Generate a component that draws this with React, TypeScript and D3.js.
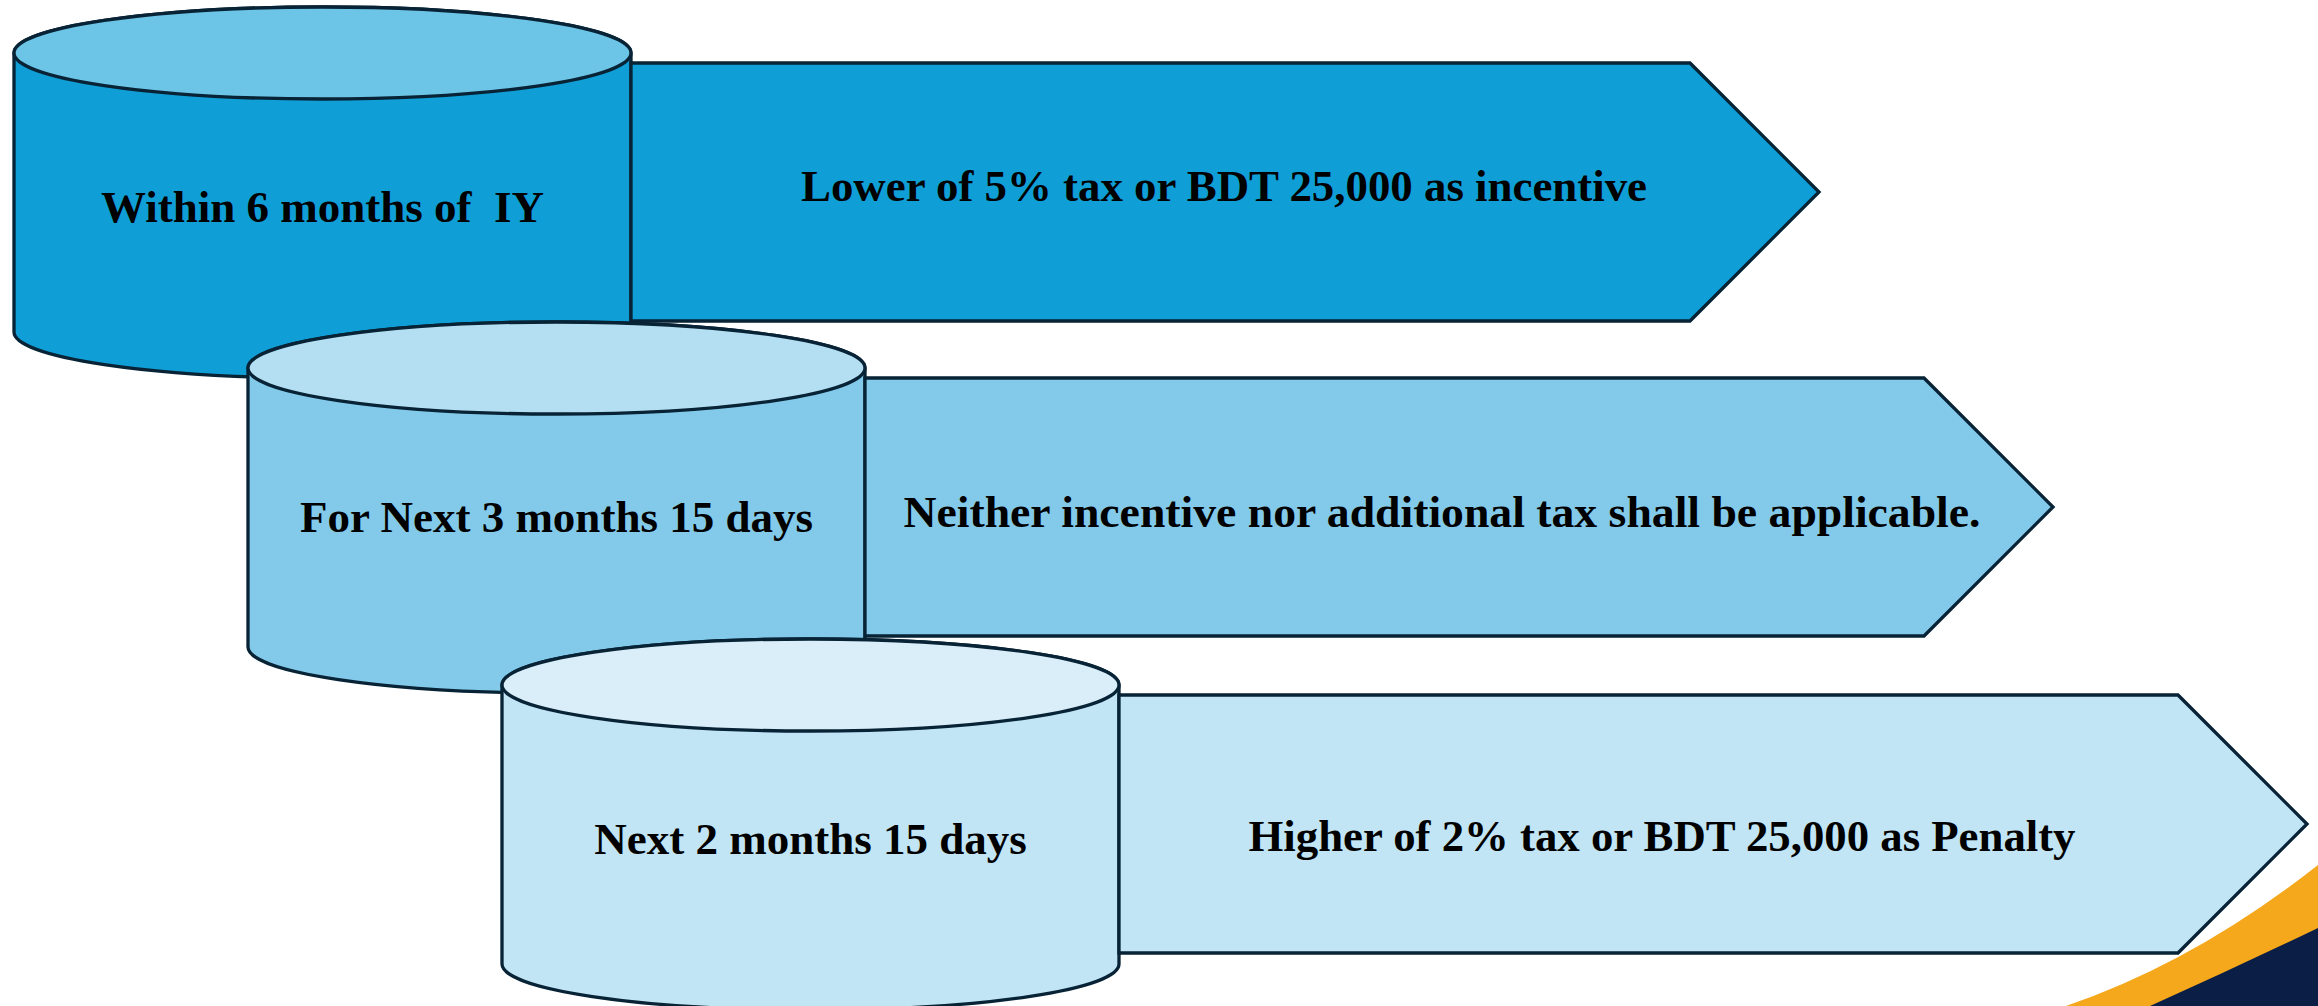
import * as d3 from 'd3';
import { useEffect, useRef } from 'react';

// Filing window stages and their consequence
const stages = ['Within 6 months of  IY', 'For Next 3 months 15 days', 'Next 2 months 15 days'];
const outcomes = [
  'Lower of 5% tax or BDT 25,000 as incentive',
  'Neither incentive nor additional tax shall be applicable.',
  'Higher of 2% tax or BDT 25,000 as Penalty',
];
const stageIndex = [0, 1, 2];

const bodyFills = ['#109ed6', '#83caea', '#c1e5f5'];
const topFills = ['#6cc4e6', '#b4dff2', '#daeef9'];
const STROKE = '#072335';

const W = 2318;
const H = 1006;

export default function App() {
  const svgRef = useRef<SVGSVGElement>(null);

  useEffect(() => {
    if (!svgRef.current) return;
    const svg = d3.select(svgRef.current);
    svg.selectAll('*').remove();

    // staircase layout: each stage steps right and down
    const cylLeft = d3.scaleLinear().domain([0, 1, 2]).range([14, 248, 502]);
    const rowY = d3.scaleLinear().domain([0, 1, 2]).range([53, 368, 685]);
    const arrowTextX = d3.scaleLinear().domain([0, 1, 2]).range([1224, 1442, 1662]);
    const cylTextDy = [169, 164, 169];
    const arrowTextDy = [148, 159, 166];
    const arrowTextW = [846, 1077, 827]; // measured from the slide (Cambria is a bit wider than Times)

    const rx = 308.5;
    const ry = 46;
    const bodyH = 279;
    const arrowTop = 10;
    const arrowH = 258;
    const arrowLen = 1059;
    const tip = 129;
    const sw = 3.3;

    // corner swoosh (bottom right)
    svg.append('path')
      .attr('d', `M2066,${H} Q2195,962 ${W},865 L${W},${H} Z`)
      .attr('fill', '#f5a81c');
    svg.append('path')
      .attr('d', `M2150,${H} Q2235,968 ${W},928 L${W},${H} Z`)
      .attr('fill', '#0b1e45');

    const rows = svg.selectAll('g.row')
      .data(stageIndex)
      .join('g')
      .attr('class', 'row');

    rows.each(function (i) {
      const g = d3.select(this);
      const left = cylLeft(i);
      const right = left + 2 * rx;
      const cx = left + rx;
      const cy = rowY(i);

      // cylinder body
      g.append('path')
        .attr('d', `M${left},${cy} L${left},${cy + bodyH} A${rx},${ry} 0 0 0 ${right},${cy + bodyH} L${right},${cy} A${rx},${ry} 0 0 0 ${left},${cy} Z`)
        .attr('fill', bodyFills[i])
        .attr('stroke', STROKE)
        .attr('stroke-width', sw)
        .attr('stroke-linejoin', 'round');

      // cylinder top
      g.append('ellipse')
        .attr('cx', cx)
        .attr('cy', cy)
        .attr('rx', rx)
        .attr('ry', ry)
        .attr('fill', topFills[i])
        .attr('stroke', STROKE)
        .attr('stroke-width', sw);

      g.append('text')
        .attr('x', cx)
        .attr('y', cy + cylTextDy[i])
        .attr('text-anchor', 'middle')
        .style('font-family', '"Liberation Serif", serif')
        .style('font-weight', 'bold')
        .style('font-size', '45px')
        .style('white-space', 'pre')
        .attr('fill', '#000')
        .text(stages[i]);

      // pentagon arrow
      const top = cy + arrowTop;
      const bottom = top + arrowH;
      const shoulder = right + arrowLen;
      const pts: [number, number][] = [
        [right, top], [shoulder, top], [shoulder + tip, (top + bottom) / 2],
        [shoulder, bottom], [right, bottom],
      ];
      g.append('path')
        .attr('d', d3.line()(pts) + 'Z')
        .attr('fill', bodyFills[i])
        .attr('stroke', STROKE)
        .attr('stroke-width', sw);

      g.append('text')
        .attr('x', arrowTextX(i))
        .attr('y', cy + arrowTextDy[i])
        .attr('text-anchor', 'middle')
        .attr('textLength', arrowTextW[i])
        .attr('lengthAdjust', 'spacingAndGlyphs')
        .style('font-family', '"Liberation Serif", serif')
        .style('font-weight', 'bold')
        .style('font-size', '45px')
        .attr('fill', '#000')
        .text(outcomes[i]);
    });
  }, []);

  return (
    <svg
      ref={svgRef}
      width={W}
      height={H}
      style={{ position: 'absolute', left: 0, top: 0, display: 'block', background: '#fff' }}
    />
  );
}
